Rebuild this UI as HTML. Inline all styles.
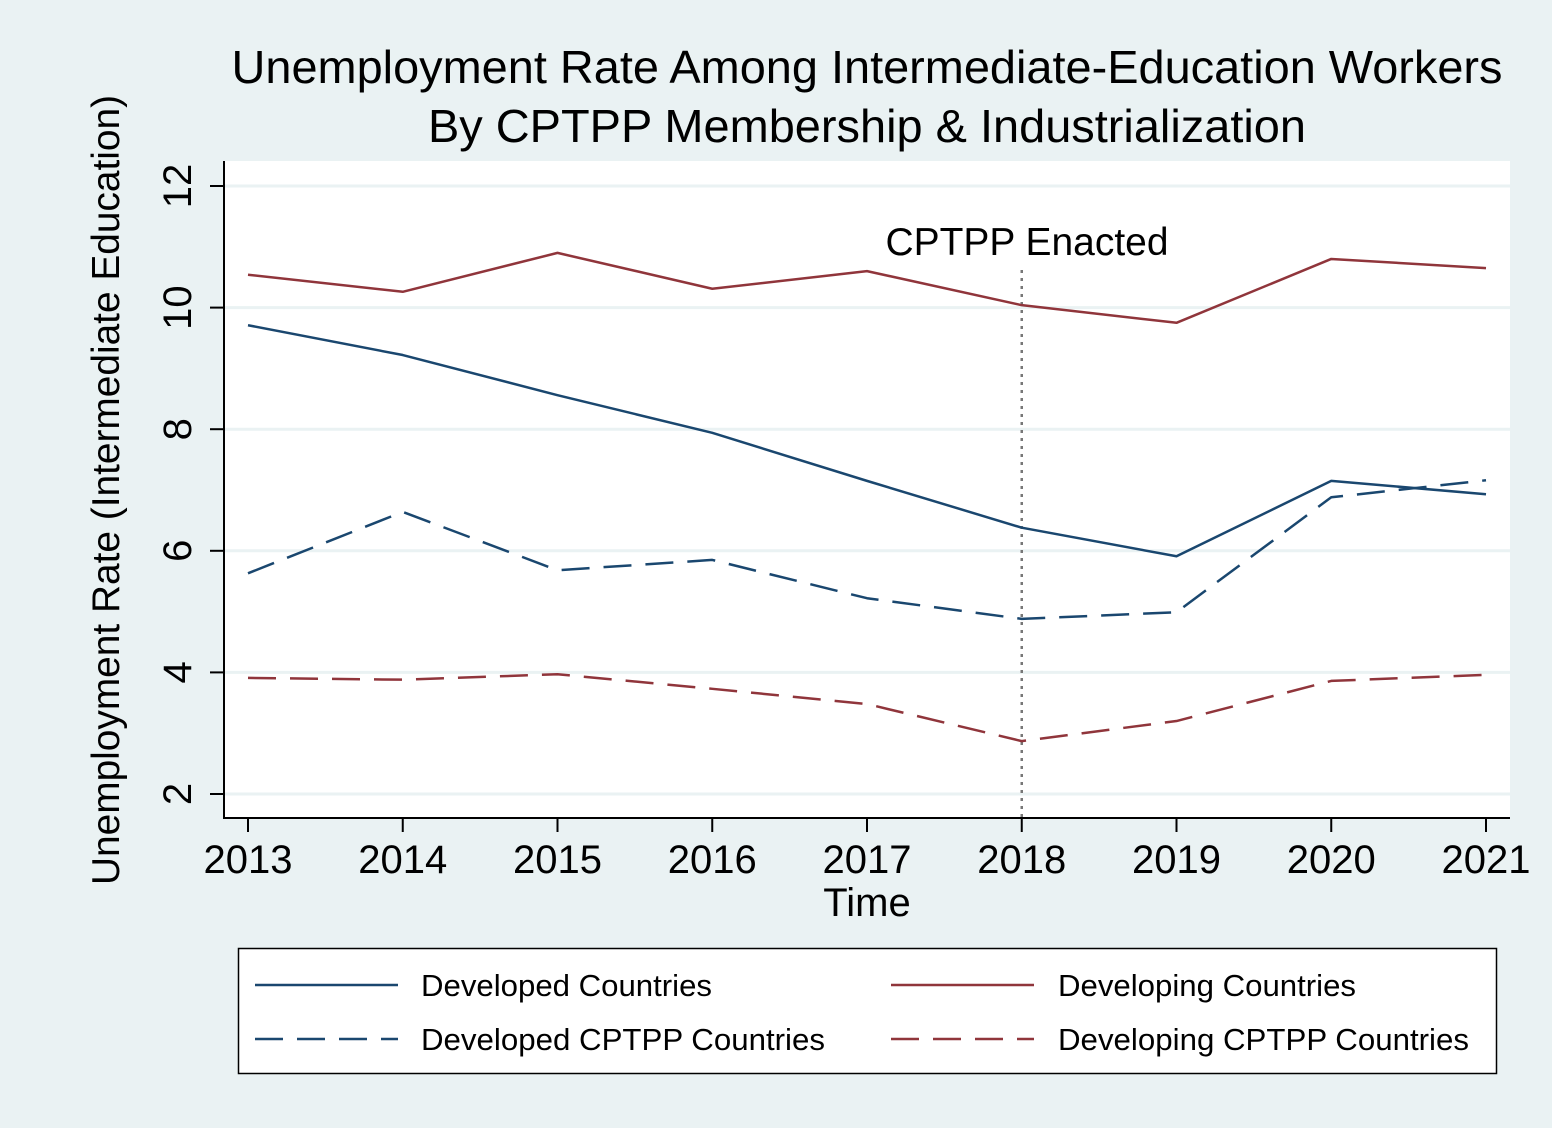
<!DOCTYPE html>
<html><head><meta charset="utf-8"><style>
html,body{margin:0;padding:0;background:#eaf2f3;}
svg{display:block;font-family:"Liberation Sans",Arial,sans-serif;}
</style></head><body>
<svg id="chart" width="1552" height="1128" viewBox="0 0 1552 1128">
<rect x="0" y="0" width="1552" height="1128" fill="#eaf2f3"/>
<text x="867" y="83" font-size="46" text-anchor="middle" textLength="1271" lengthAdjust="spacingAndGlyphs">Unemployment Rate Among Intermediate-Education Workers</text>
<text x="867" y="142" font-size="46" text-anchor="middle" textLength="878" lengthAdjust="spacingAndGlyphs">By CPTPP Membership &amp; Industrialization</text>
<rect x="224" y="161" width="1286" height="657" fill="#ffffff"/>
<g id="grid"></g>
<g id="series"></g>
<g id="axes"></g>
<text transform="translate(119,490) rotate(-90)" font-size="39" text-anchor="middle" textLength="790" lengthAdjust="spacingAndGlyphs">Unemployment Rate (Intermediate Education)</text>
<text x="867" y="916" font-size="40" text-anchor="middle">Time</text>
<g>
<rect x="238.5" y="948.5" width="1258" height="125" fill="#ffffff" stroke="#000" stroke-width="1.5"/>
<g>
<line x1="255" y1="985" x2="398" y2="985" stroke="#1a476f" stroke-width="2.5"/>
<text x="421" y="996" font-size="31" textLength="291" lengthAdjust="spacingAndGlyphs">Developed Countries</text></g>
<g>
<line x1="891" y1="985" x2="1034" y2="985" stroke="#90353b" stroke-width="2.5"/>
<text x="1058" y="996" font-size="31" textLength="298" lengthAdjust="spacingAndGlyphs">Developing Countries</text></g>
<g>
<line x1="255" y1="1039" x2="398" y2="1039" stroke="#1a476f" stroke-width="2.5" stroke-dasharray="28,14"/>
<text x="421" y="1050" font-size="31" textLength="404" lengthAdjust="spacingAndGlyphs">Developed CPTPP Countries</text></g>
<g>
<line x1="891" y1="1039" x2="1034" y2="1039" stroke="#90353b" stroke-width="2.5" stroke-dasharray="28,14"/>
<text x="1058" y="1050" font-size="31" textLength="411" lengthAdjust="spacingAndGlyphs">Developing CPTPP Countries</text></g>
</g>
</svg>
<script>
const years = [2013,2014,2015,2016,2017,2018,2019,2020,2021];
const yTicks = [2,4,6,8,10,12];
const developed = [9.71,9.22,8.56,7.94,7.15,6.38,5.91,7.15,6.93];
const developing = [10.54,10.26,10.90,10.31,10.60,10.04,9.75,10.80,10.65];
const developedCptpp = [5.63,6.64,5.68,5.85,5.22,4.88,4.99,6.88,7.16];
const developingCptpp = [3.91,3.88,3.97,3.73,3.48,2.87,3.20,3.86,3.96];
const enactedYear = 2018;

const NS = "http://www.w3.org/2000/svg";
function xs(v){return 248 + (v-2013)*(1486-248)/8;}
function ys(v){return 794 - (v-2)*60.8;}
function mk(tag, attrs, parent){const e=document.createElementNS(NS,tag);for(const k in attrs)e.setAttribute(k,attrs[k]);parent.appendChild(e);return e;}
const grid=document.getElementById('grid'), axes=document.getElementById('axes'), ser=document.getElementById('series');

yTicks.forEach(t=>{
  const g=mk('line',{x1:224,x2:1510,y1:ys(t),y2:ys(t),stroke:'#eaf2f3','stroke-width':3},grid);
  
  
  const tk=mk('line',{x1:210,x2:224,y1:ys(t),y2:ys(t),stroke:'#000','stroke-width':2},axes);
  
  
  const lb=mk('text',{transform:`translate(191,${ys(t)}) rotate(-90)`,'font-size':40,'text-anchor':'middle'},axes);
  lb.textContent=t;
  
  
});
years.forEach(y=>{
  const tk=mk('line',{x1:xs(y),x2:xs(y),y1:818,y2:832,stroke:'#000','stroke-width':2},axes);
  
  
  const lb=mk('text',{x:xs(y),y:873,'font-size':40,'text-anchor':'middle'},axes);
  lb.textContent=y;
  
  
});
const ax1=mk('line',{x1:224,x2:224,y1:161,y2:819,stroke:'#000','stroke-width':2},axes);


const ax2=mk('line',{x1:223,x2:1510,y1:818,y2:818,stroke:'#000','stroke-width':2},axes);



const vl=mk('line',{x1:xs(enactedYear),x2:xs(enactedYear),y1:270,y2:818,stroke:'#777','stroke-width':2.5,'stroke-dasharray':'3,5'},ser);


const vt=mk('text',{x:1027,y:255,'font-size':39,'text-anchor':'middle',textLength:283,lengthAdjust:'spacingAndGlyphs'},ser);
vt.textContent='CPTPP Enacted';



function line(vals,color,dash,name){
  const p=mk('polyline',{points:vals.map((v,i)=>xs(years[i])+','+ys(v)).join(' '),fill:'none',stroke:color,'stroke-width':2.5,'stroke-linejoin':'round'},ser);
  if(dash)p.setAttribute('stroke-dasharray',dash);
  
  
}
line(developing,'#90353b',null,'developing-countries-line');
line(developed,'#1a476f',null,'developed-countries-line');
line(developedCptpp,'#1a476f','28,14','developed-cptpp-line');
line(developingCptpp,'#90353b','28,14','developing-cptpp-line');
</script>
</body></html>
